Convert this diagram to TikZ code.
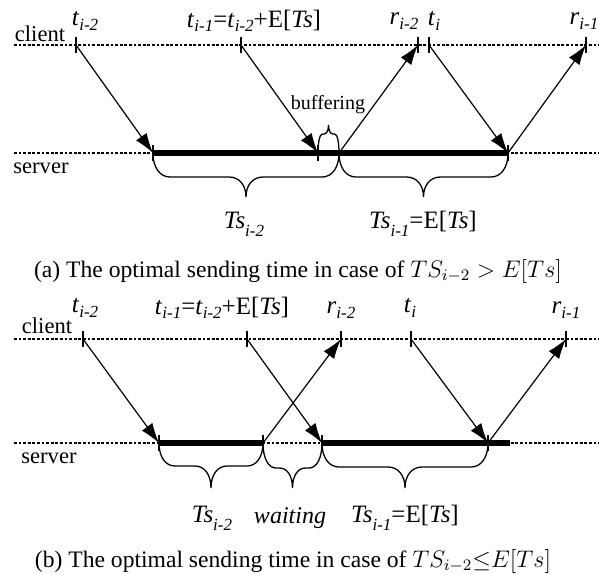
\documentclass[tikz,border=0pt]{standalone}
\usepackage{fontspec}
\setmainfont{Liberation Serif}
\usetikzlibrary{arrows.meta, positioning}

% italic symbol with a lowered italic index (t_{i-2}, Ts_{i-1} ...)
\newcommand{\lowidx}[3][0.4ex]{\textit{#2}\raisebox{-#1}{\fontsize{8.5}{8.5}\selectfont\textit{#3}}}

% curly brace: x1, x2, y, arm depth, tip depth, arm radius
\newcommand{\curlybrace}[6]{%
  \draw[brc] (#1,#3) .. controls (#1,{#3+0.6*(#4)}) and ({#1+0.4*#6},{#3+#4}) .. ({#1+#6},{#3+#4})
    -- ({(#1+#2)/2-#6},{#3+#4}) .. controls ({(#1+#2)/2-0.4*#6},{#3+#4}) and ({(#1+#2)/2},{#3+#4+0.4*(#5-(#4))}) .. ({(#1+#2)/2},{#3+#5})
    .. controls ({(#1+#2)/2},{#3+#4+0.4*(#5-(#4))}) and ({(#1+#2)/2+0.4*#6},{#3+#4}) .. ({(#1+#2)/2+#6},{#3+#4})
    -- ({#2-#6},{#3+#4}) .. controls ({#2-0.4*#6},{#3+#4}) and (#2,{#3+0.6*(#4)}) .. (#2,#3);}

\begin{document}
\begin{tikzpicture}[x=0.5pt, y=-0.5pt,
        timeline/.style={line width=0.6pt, dash pattern=on 1.4pt off 0.9pt},
        msg/.style={-{Latex[length=10pt,width=6.5pt]}, line width=0.6pt},
        busy/.style={line width=2.6pt},
        tck/.style={line width=0.6pt},
        brc/.style={line width=0.65pt},
        ev/.style={inner sep=0pt, font=\fontsize{12.5}{14}\selectfont},
        side/.style={inner sep=0pt, font=\fontsize{11.3}{13}\selectfont},
        captext/.style={inner sep=0pt, font=\fontsize{11.8}{13}\selectfont}
    ]
    \useasboundingbox (0,0) rectangle (599,574);

    % ---------- (a) ----------
    \coordinate (aC0) at (14,45);   \coordinate (aC1) at (599,45);
    \coordinate (aS0) at (14,153);  \coordinate (aS1) at (599,153);
    \draw[timeline] (aC0) -- (aC1);
    \draw[timeline] (aS0) -- (aS1);

    \coordinate (aT2) at (76,45);   \coordinate (aT1) at (241,45);
    \coordinate (aR2) at (418,45);  \coordinate (aT0) at (429,45);
    \coordinate (aR1) at (586,45);
    \coordinate (aA2) at (153,153); \coordinate (aA1) at (318,153);
    \coordinate (aD2) at (339,153); \coordinate (aD1) at (508,153);

    \draw[busy] (aA2) -- (aD1);
    \foreach \p in {aT2,aT1,aR2,aT0,aR1,aA2,aA1,aD1}
        \draw[tck] ([yshift=4pt]\p) -- ([yshift=-4pt]\p);

    \draw[msg] (aT2) -- (aA2);
    \draw[msg] (aT1) -- (aA1);
    \draw[msg] (aD2) -- (aR2);
    \draw[msg] (aT0) -- (aD1);
    \draw[msg] (aD1) -- (aR1);

    \curlybrace{153}{339}{153}{24}{44}{17}
    \curlybrace{339}{508}{153}{24}{44}{17}
    \curlybrace{318}{339}{153}{-19}{-28}{4.5}

    \node[side] (aclient) at (40,34) {client};
    \node[side] (aserver) at (41,168) {server};
    \node[ev] (laT2) at (85,21) {\lowidx{t}{i-2}};
    \node[ev] (laT1) at (254,21) {\lowidx{t}{i-1}=\lowidx{t}{i-2}+E[\textit{Ts}]};
    \node[ev] (laR2) at (404,21) {\lowidx{r}{i-2}};
    \node[ev] (laT0) at (434,21) {\lowidx{t}{i}};
    \node[ev] (laR1) at (584,21) {\lowidx{r}{i-1}};
    \node[side, font=\fontsize{10}{12}\selectfont] (lbuf) at (328,105) {buffering};
    \node[ev] (lTsa2) at (244,224) {\lowidx[0.7ex]{Ts}{i-2}};
    \node[ev] (lTsa1) at (423,224) {\lowidx[0.7ex]{Ts}{i-1}=E[\textit{Ts}]};
    \node[captext] (capa) at (298,271) {(a) The optimal sending time in case of $TS_{i-2} > E[Ts]$};

    % ---------- (b) ----------
    \coordinate (bC0) at (14,339);  \coordinate (bC1) at (599,339);
    \coordinate (bS0) at (14,443);  \coordinate (bS1) at (599,443);
    \draw[timeline] (bC0) -- (bC1);
    \draw[timeline] (bS0) -- (bS1);

    \coordinate (bT2) at (83,339);  \coordinate (bT1) at (247,339);
    \coordinate (bR2) at (341,339); \coordinate (bT0) at (411,339);
    \coordinate (bR1) at (566,339);
    \coordinate (bA2) at (159,443); \coordinate (bD2) at (263,443);
    \coordinate (bA1) at (322,443); \coordinate (bD1) at (488,443);
    \coordinate (bE1) at (510,443);

    \draw[busy] (bA2) -- (bD2);
    \draw[busy] (bA1) -- (bE1);
    \foreach \p in {bT2,bT1,bR2,bT0,bR1,bA2,bD2,bA1,bD1}
        \draw[tck] ([yshift=4pt]\p) -- ([yshift=-4pt]\p);

    \draw[msg] (bT2) -- (bA2);
    \draw[msg] (bT1) -- (bA1);
    \draw[msg] (bD2) -- (bR2);
    \draw[msg] (bT0) -- (bD1);
    \draw[msg] (bD1) -- (bR1);

    \curlybrace{159}{263}{443}{23}{45}{16}
    \curlybrace{263}{322}{443}{25}{45}{13}
    \curlybrace{322}{488}{443}{24}{45}{17}

    \node[side] (bclient) at (47,326) {client};
    \node[side] (bserver) at (49,458) {server};
    \node[ev] (lbT2) at (85,308) {\lowidx{t}{i-2}};
    \node[ev] (lbT1) at (222,308) {\lowidx{t}{i-1}=\lowidx{t}{i-2}+E[\textit{Ts}]};
    \node[ev] (lbR2) at (341,310) {\lowidx{r}{i-2}};
    \node[ev] (lbT0) at (410,308) {\lowidx{t}{i}};
    \node[ev] (lbR1) at (566,310) {\lowidx{r}{i-1}};
    \node[ev] (lTsb2) at (212,518) {\lowidx[0.7ex]{Ts}{i-2}};
    \node[ev, font=\fontsize{12}{14}\selectfont] (lwait) at (290,518) {\textit{waiting}};
    \node[ev] (lTsb1) at (405,518) {\lowidx[0.7ex]{Ts}{i-1}=E[\textit{Ts}]};
    \node[captext] (capb) at (293,561) {(b) The optimal sending time in case of $TS_{i-2}{\leq}E[Ts]$};
\end{tikzpicture}
\end{document}
